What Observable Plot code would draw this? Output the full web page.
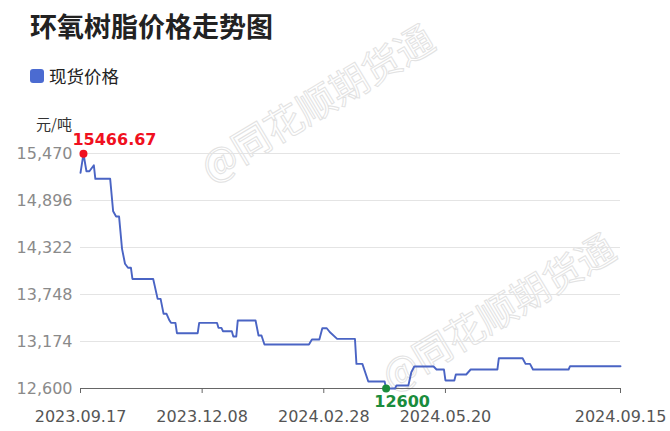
<!DOCTYPE html>
<html>
<head>
<meta charset="utf-8">
<script src="https://cdn.jsdelivr.net/npm/d3@7"></script>
<script src="https://cdn.jsdelivr.net/npm/@observablehq/plot@0.6"></script>
<style>
  html, body { margin: 0; padding: 0; background: #fff; }
  #wrap { position: relative; width: 670px; height: 431px; overflow: hidden; font-family: "Noto Sans CJK SC", "DejaVu Sans", sans-serif; }
  .abs { position: absolute; white-space: nowrap; }
  .wm { position: absolute; font-family: "Noto Sans CJK SC", sans-serif; font-size: 38px; color: transparent; -webkit-text-stroke: 1px #e2e2e2; transform: translate(-50%, -50%) rotate(-31deg); white-space: nowrap; }
  #chart { position: absolute; left: 0; top: 0; }
  #chart svg { overflow: visible; }
</style>
</head>
<body>
<div id="wrap">
  <div class="wm" style="left:316px; top:101px;">@同花顺期货通</div>
  <div class="wm" style="left:497px; top:310px;">@同花顺期货通</div>
  <div class="abs" style="left:30px; top:11px; font-size:27px; line-height:30px; font-weight:bold; color:#222;">环氧树脂价格走势图</div>
  <div class="abs" style="left:30px; top:69px; width:14px; height:14px; border-radius:3px; background:#4b6bd1;"></div>
  <div class="abs" style="left:49px; top:64px; font-size:17.5px; line-height:24px; color:#222;">现货价格</div>
  <div class="abs" style="left:0px; width:72px; text-align:right; top:114px; font-size:15px; line-height:20px; color:#333;">元/吨</div>
  <div id="chart"></div>
</div>
<script>
const title = "环氧树脂价格走势图";
const seriesName = "现货价格";
const unit = "元/吨";

const dates = [
  "2023-09-17","2023-09-19","2023-09-21","2023-09-23","2023-09-26","2023-09-27",
  "2023-10-07","2023-10-09","2023-10-11","2023-10-13","2023-10-15","2023-10-17",
  "2023-10-19","2023-10-21","2023-10-22","2023-11-05","2023-11-08","2023-11-10",
  "2023-11-12","2023-11-14","2023-11-16","2023-11-17","2023-11-20","2023-11-21",
  "2023-12-05","2023-12-06","2023-12-18","2023-12-19","2023-12-21","2023-12-22",
  "2023-12-28","2023-12-29","2023-12-31","2024-01-01","2024-01-13","2024-01-15",
  "2024-01-17","2024-01-19","2024-02-18","2024-02-20","2024-02-25","2024-02-27",
  "2024-03-01","2024-03-03","2024-03-08","2024-03-20","2024-03-21","2024-03-25",
  "2024-03-29","2024-04-09","2024-04-10","2024-04-16","2024-04-17","2024-04-25",
  "2024-04-27","2024-04-29","2024-05-12","2024-05-14","2024-05-19","2024-05-20",
  "2024-05-26","2024-05-27","2024-06-03","2024-06-06","2024-06-24","2024-06-25",
  "2024-07-11","2024-07-13","2024-07-16","2024-07-18","2024-08-11","2024-08-12",
  "2024-09-15"
];
const prices = [
  15234, 15466.67, 15253, 15253, 15326, 15161,
  15161, 14765, 14700, 14700, 14306, 14123,
  14074, 14074, 13938, 13938, 13695, 13695,
  13512, 13512, 13430, 13402, 13402, 13275,
  13275, 13402, 13402, 13341, 13341, 13300,
  13300, 13235, 13235, 13430, 13430, 13247,
  13247, 13137, 13137, 13198, 13198, 13336,
  13336, 13290, 13206, 13206, 12901, 12901,
  12685, 12685, 12600, 12600, 12637, 12637,
  12799, 12869, 12869, 12832, 12832, 12698,
  12698, 12771, 12771, 12832, 12832, 12970,
  12970, 12901, 12901, 12832, 12832, 12872,
  12872
];
const yTicks = [12600, 13174, 13748, 14322, 14896, 15470];
const xTickLabels = ["2023-09-17","2023-12-08","2024-02-28","2024-05-20","2024-09-15"];
const maxLabel = "15466.67";
const minLabel = "12600";

const data = dates.map((d, i) => ({date: new Date(d + "T00:00:00Z"), price: prices[i]}));
const xTicks = xTickLabels.map(d => new Date(d + "T00:00:00Z"));
const maxPt = data.reduce((a, b) => (b.price > a.price ? b : a));
const minPt = data.reduce((a, b) => (b.price < a.price ? b : a));

const chart = Plot.plot({
  width: 670,
  height: 431,
  marginLeft: 80,
  marginRight: 50,
  marginTop: 153,
  marginBottom: 43,
  style: {fontFamily: "DejaVu Sans", fontSize: "16px", background: "transparent", overflow: "visible"},
  x: {type: "utc", domain: [xTicks[0], xTicks[xTicks.length - 1]]},
  y: {domain: [yTicks[0], yTicks[yTicks.length - 1]]},
  marks: [
    Plot.gridY(yTicks, {stroke: "#e4e4e4", strokeOpacity: 1}),
    Plot.axisY(yTicks, {tickSize: 0, tickPadding: 8, tickFormat: d3.format(","), color: "#8a8a8a", label: null, fontSize: 16}),
    Plot.ruleY([yTicks[0]], {stroke: "#666", strokeWidth: 1}),
    Plot.axisX(xTicks, {tickSize: 5, tickPadding: 17, stroke: "#666", tickFormat: d3.utcFormat("%Y.%m.%d"), color: "#555", label: null, fontSize: 16}),
    Plot.line(data, {x: "date", y: "price", stroke: "#4a64c4", strokeWidth: 1.9}),
    Plot.dot([maxPt], {x: "date", y: "price", r: 4, fill: "#f01020", stroke: "none"}),
    Plot.text([maxPt], {x: "date", y: "price", text: () => maxLabel, textAnchor: "start", dx: -11, dy: -14, fill: "#f01020", fontWeight: "bold", fontSize: 16}),
    Plot.dot([minPt], {x: "date", y: "price", r: 4, fill: "#1a8c3c", stroke: "none"}),
    Plot.text([minPt], {x: "date", y: "price", text: () => minLabel, dx: 16, dy: 13, fill: "#1a8c3c", fontWeight: "bold", fontSize: 16})
  ]
});
document.getElementById("chart").appendChild(chart);
</script>
</body>
</html>
